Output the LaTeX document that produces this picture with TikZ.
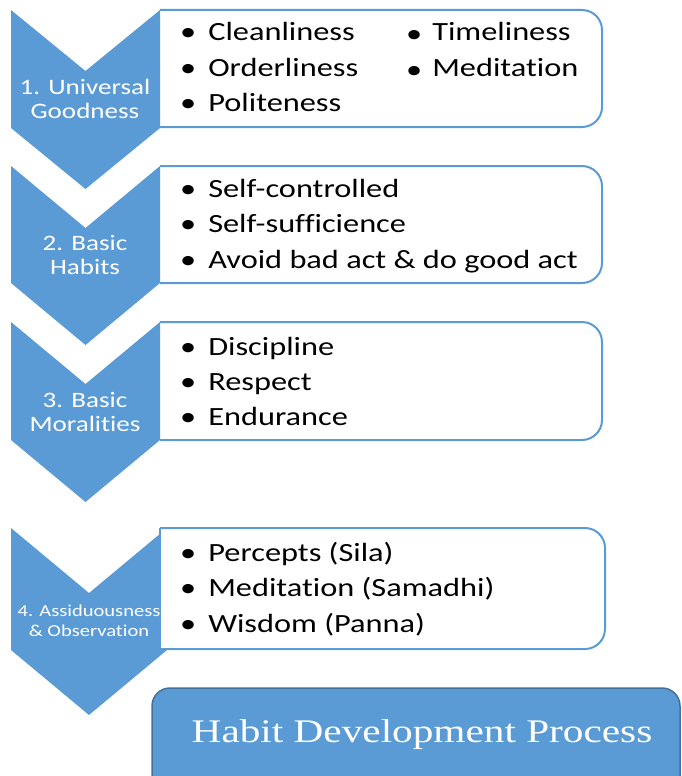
\documentclass[tikz,border=0pt]{standalone}
\usepackage{fontspec}
\setmainfont{Carlito}[FakeStretch=1.23, Ligatures={NoCommon,NoRequired,NoContextual}]
\newfontfamily\titlefont{Liberation Serif}[FakeStretch=1.25]
\definecolor{cblue}{HTML}{5B9BD5}
\definecolor{cdark}{HTML}{41719C}
\tikzset{
  chev/.style={fill=cblue},
  itembox/.style={draw=cblue, line width=2pt, fill=white, rounded corners=20pt},
  item/.style={anchor=base west, font=\fontsize{26.3}{30}\selectfont, inner sep=0pt},
  lbl/.style={align=center, text=white, font=\fontsize{22}{24.5}\selectfont, inner sep=0pt},
  smalllbl/.style={align=center, text=white, font=\fontsize{16.7}{19.5}\selectfont, inner sep=0pt},
  titlebox/.style={fill=cblue, draw=cdark, line width=1.5pt, rounded corners=18pt},
}
\newcommand\mychev[5]{% xl xr ytop h d
  \path[chev] (#1,#3) -- ({(#1+#2)/2},{#3+#5}) -- (#2,#3) -- (#2,{#3+#4})
    -- ({(#1+#2)/2},{#3+#4+#5}) -- (#1,{#3+#4}) -- cycle;}
\newcommand\myitembox[4]{% xl ytop xr ybot
  \begin{scope}
    \clip (#1,0) rectangle (700,800);
    \draw[itembox] ({#1-30},#2) rectangle (#3,#4);
  \end{scope}}
\begin{document}
\begin{tikzpicture}[x=1pt,y=-1pt]
\useasboundingbox (0,0) rectangle (682,776);
\clip (0,0) rectangle (682,776);

% boxes 1-3
\myitembox{160}{10}{602}{127}
\myitembox{160}{166}{602}{283}
\myitembox{160}{322}{602}{440}

% chevrons
\mychev{11}{160}{10}{118}{61}
\mychev{11}{160}{166}{117}{62}
\mychev{11}{160}{322}{118}{62}
\mychev{11}{167}{528}{122}{65}

% box 4 over chevron 4
\myitembox{160}{528}{605}{649}
\draw[draw=cblue, line width=2pt] (160,528) -- (160,649);

% chevron labels
\node[lbl] (l1) at (85,99) {1. Universal\\Goodness};
\node[lbl] (l2) at (85,255) {2. Basic\\Habits};
\node[lbl] (l3) at (85,412) {3. Basic\\Moralities};
\node[smalllbl] (l4) at (89,621) {4. Assiduousness\\\& Observation};

% box 1 items
\node[item] (a1) at (180,41) {•\hspace{12pt}Cleanliness};
\node[item] (a2) at (180,76) {•\hspace{12pt}Orderliness};
\node[item] (a3) at (180,111) {•\hspace{12pt}Politeness};
\node[item] (a4) at (406,41) {\raisebox{-2pt}{•}\hspace{10pt}Timeliness};
\node[item] (a5) at (406,76) {\raisebox{-2pt}{•}\hspace{10pt}Meditation};

% box 2 items
\node[item] (b1) at (180,197) {•\hspace{12pt}Self-controlled};
\node[item] (b2) at (180,232) {•\hspace{12pt}Self-sufficience};
\node[item] (b3) at (180,268) {•\hspace{12pt}Avoid bad act \& do good act};

% box 3 items
\node[item] (c1) at (180,355) {•\hspace{12pt}Discipline};
\node[item] (c2) at (180,390) {•\hspace{12pt}Respect};
\node[item] (c3) at (180,425) {•\hspace{12pt}Endurance};

% box 4 items
\node[item] (d1) at (180,561) {•\hspace{12pt}Percepts (Sila)};
\node[item] (d2) at (180,596) {•\hspace{12pt}Meditation (Samadhi)};
\node[item] (d3) at (180,632) {•\hspace{12pt}Wisdom (Panna)};

% title
\draw[titlebox] (152,688) rectangle (680,810);
\node[anchor=base, text=white, inner sep=0pt, font=\titlefont\fontsize{33}{36}\selectfont] (title) at (422,742) {Habit Development Process};
\end{tikzpicture}
\end{document}
